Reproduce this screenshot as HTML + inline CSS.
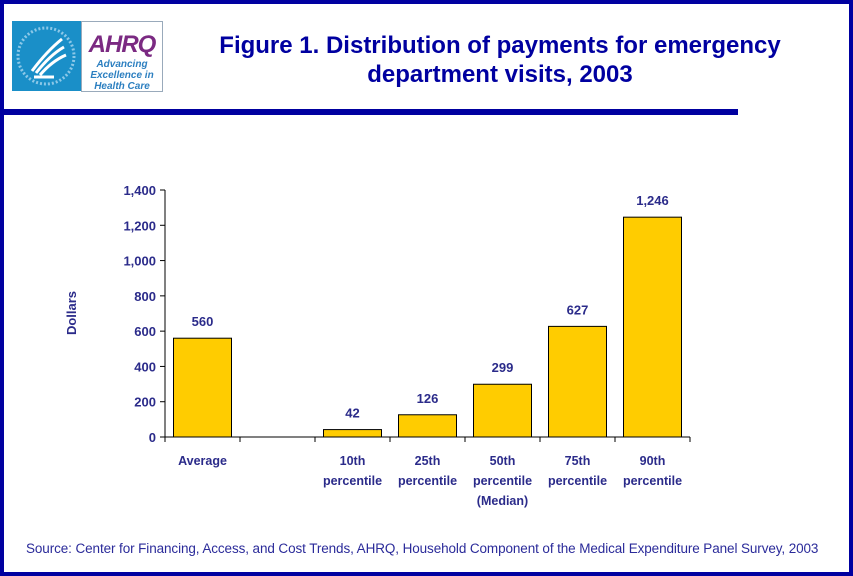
<!DOCTYPE html>
<html><head><meta charset="utf-8"><style>
body{margin:0;width:853px;height:576px;overflow:hidden;background:#fff;font-family:"Liberation Sans",Arial,sans-serif}
#frame{position:absolute;left:0;top:0;width:845px;height:568px;border:4px solid #0000a0}
.abs{position:absolute}
</style></head><body>
<div id="frame"></div>
<div class="abs" style="left:12px;top:21px;width:69px;height:70px;background:#1a8fc8">
<svg width="69" height="70"><circle cx="34" cy="35" r="28" fill="none" stroke="#8cc8e8" stroke-width="3" stroke-dasharray="2 2"/><path d="M20 50 Q35 30 50 18 M24 52 Q38 34 52 26 M28 54 Q40 40 54 34 M22 56 L42 56" stroke="#fff" stroke-width="3" fill="none"/></svg></div>
<div class="abs" style="left:81px;top:21px;width:80px;height:69px;border:1px solid #9ab;background:#fff;text-align:center">
<div style="font:italic bold 24px 'Liberation Sans',sans-serif;color:#7b2a82;margin-top:9px;letter-spacing:-1px">AHRQ</div>
<div style="font:italic bold 10px 'Liberation Sans',sans-serif;color:#2c7fc0;line-height:11px">Advancing<br>Excellence in<br>Health Care</div></div>
<div class="abs" style="left:180px;top:31px;width:640px;text-align:center;font-weight:bold;font-size:24px;line-height:29px;color:#0000a0">Figure 1. Distribution of payments for emergency department visits, 2003</div>
<div class="abs" style="left:0;top:109px;width:738px;height:6px;background:#0000a0"></div>
<svg class="abs" style="left:0;top:0" width="853" height="576" id="chart"></svg>
<div class="abs" style="left:26px;top:541px;font-size:13.5px;color:#2b2b9a;letter-spacing:-0.1px;white-space:nowrap">Source: Center for Financing, Access, and Cost Trends, AHRQ, Household Component of the Medical Expenditure Panel Survey, 2003</div>
<script>
const categories=[["Average"],[],["10th","percentile"],["25th","percentile"],["50th","percentile","(Median)"],["75th","percentile"],["90th","percentile"]];
const values=[560,null,42,126,299,627,1246];
const valueLabels=["560","","42","126","299","627","1,246"];
const yTicks=[0,200,400,600,800,1000,1200,1400];
const yTickLabels=["0","200","400","600","800","1,000","1,200","1,400"];
const svg=document.getElementById('chart');const NS='http://www.w3.org/2000/svg';
const x0=165,bw=75,y0=437,yTop=190,yMax=1400;
const y=v=>y0-(v/yMax)*(y0-yTop);
const xs=i=>x0+i*bw;
function mk(t,a,txt){const e=document.createElementNS(NS,t);for(const k in a)e.setAttribute(k,a[k]);if(txt!=null)e.textContent=txt;svg.appendChild(e);return e;}
const C='#2b2b8a';
let e=mk('line',{x1:x0,y1:yTop,x2:x0,y2:y0,stroke:'#000'});

e=mk('line',{x1:x0,y1:y0,x2:xs(categories.length),y2:y0,stroke:'#000'});

yTicks.forEach((t,i)=>{
 e=mk('line',{x1:x0-5,y1:y(t),x2:x0,y2:y(t),stroke:'#000'});
 
 e=mk('text',{x:x0-9,y:y(t)+5,'text-anchor':'end','font-size':'13','font-weight':'bold',fill:C},yTickLabels[i]);
 
});
for(let i=0;i<=categories.length;i++){e=mk('line',{x1:xs(i),y1:y0,x2:xs(i),y2:y0+5,stroke:'#000'});
 }
e=mk('text',{x:76,y:313,'text-anchor':'middle','font-size':'13','font-weight':'bold',fill:C,transform:'rotate(-90 76 313)'},'Dollars');

categories.forEach((c,i)=>{
 const cx=xs(i)+bw/2;
 c.forEach((ln,j)=>{e=mk('text',{x:cx,y:465+j*20,'text-anchor':'middle','font-size':'12.5','font-weight':'bold',fill:C},ln);
  });
 if(values[i]==null)return;
 e=mk('rect',{x:cx-29,y:y(values[i]),width:58,height:y0-y(values[i]),fill:'#ffcc00',stroke:'#000','stroke-width':1});
 
 e=mk('text',{x:cx,y:y(values[i])-12,'text-anchor':'middle','font-size':'13','font-weight':'bold',fill:C},valueLabels[i]);
 
});
</script>
</body></html>
